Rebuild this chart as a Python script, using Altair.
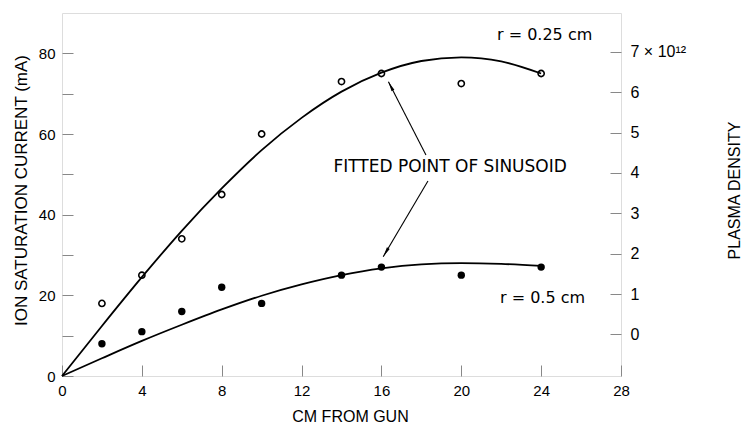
import math
import altair as alt
import pandas as pd

# Probe distance from the gun (cm) and measured ion saturation current (mA)
distance_cm = [2, 4, 6, 8, 10, 14, 16, 20, 24]
current_r025 = [18, 25, 34, 45, 60, 73, 75, 72.5, 75]   # open circles, r = 0.25 cm
current_r05 = [8, 11, 16, 22, 18, 25, 27, 25, 27]       # filled circles, r = 0.5 cm

# Fitted sinusoids through the data
fit_x = [0, 2, 4, 6, 8, 10, 12, 14, 16, 18, 20, 22, 24]
fit_r025 = [0, 12.4, 24.5, 36.0, 46.5, 56.0, 64.0, 70.5, 75.2, 78.1, 79.0, 78.0, 75.0]
fit_r05 = [0, 4.4, 8.7, 12.7, 16.5, 19.9, 22.7, 25.0, 26.7, 27.7, 28.0, 27.8, 27.3]

# Axis ticks
x_ticks = list(range(0, 29, 2))
y_ticks = list(range(0, 81, 10))
density_ticks = list(range(0, 8))

# Pointer arrows from the caption to the fitted points (tail -> tip)
arrow_tail_x = [18.23, 18.33]
arrow_tail_y = [54.8, 48.35]
arrow_tip_x = [16.35, 16.09]
arrow_tip_y = [72.97, 29.58]

W, H = 559, 363
X_DOM = [0, 28]
Y_DOM = [0, 90]
D_DOM = [-1.03, 7.96]
FONT = "DejaVu Sans"

px_x = W / (X_DOM[1] - X_DOM[0])
px_y = H / (Y_DOM[1] - Y_DOM[0])

xs = alt.Scale(domain=X_DOM, nice=False, zero=False)
ys = alt.Scale(domain=Y_DOM, nice=False, zero=False)

x_axis = alt.Axis(
    values=x_ticks,
    labelExpr="datum.value % 4 == 0 ? datum.label : ''",
    title="CM FROM GUN",
    offset=-11, tickSize=11, domain=False, grid=False,
    labelFlush=False, labelOverlap=False,
    labelFontSize=15, labelPadding=7,
    titleFontSize=16, titleFontWeight="normal", titlePadding=10, titleX=288,
)
y_axis = alt.Axis(
    values=y_ticks,
    labelExpr="datum.value % 20 == 0 ? datum.label : ''",
    title="ION SATURATION CURRENT (mA)",
    offset=-11, tickSize=11, domain=False, grid=False,
    labelFlush=False, labelOverlap=False,
    labelFontSize=15, labelPadding=7,
    titleFontSize=17, titleFontWeight="normal", titlePadding=8, titleY=177,
)

pts = pd.DataFrame({"x": distance_cm, "a": current_r025, "b": current_r05})
fit = pd.DataFrame({"x": fit_x, "a": fit_r025, "b": fit_r05})

open_pts = alt.Chart(pts).mark_point(
    shape="circle", filled=False, color="black", size=38, strokeWidth=1.6, opacity=1
).encode(
    x=alt.X("x:Q", scale=xs, axis=x_axis),
    y=alt.Y("a:Q", scale=ys, axis=y_axis),
)
filled_pts = alt.Chart(pts).mark_circle(color="black", size=55, opacity=1).encode(
    x=alt.X("x:Q", scale=xs), y=alt.Y("b:Q", scale=ys)
)
line_a = alt.Chart(fit).mark_line(color="black", strokeWidth=1.8, interpolate="monotone").encode(
    x=alt.X("x:Q", scale=xs), y=alt.Y("a:Q", scale=ys)
)
line_b = alt.Chart(fit).mark_line(color="black", strokeWidth=1.8, interpolate="monotone").encode(
    x=alt.X("x:Q", scale=xs), y=alt.Y("b:Q", scale=ys)
)

# Arrow shafts and heads
heads = []
for tx, ty, hx, hy in zip(arrow_tail_x, arrow_tail_y, arrow_tip_x, arrow_tip_y):
    dx = (hx - tx) * px_x
    dy = -(hy - ty) * px_y
    length = math.hypot(dx, dy)
    ang = math.degrees(math.atan2(dx, -dy)) % 360
    back = 5.0 / length
    heads.append({
        "x": hx - (hx - tx) * back,
        "y": hy - (hy - ty) * back,
        "angle": ang,
    })
arrows = pd.DataFrame({"x": arrow_tail_x, "y": arrow_tail_y, "x2": arrow_tip_x, "y2": arrow_tip_y})
shafts = alt.Chart(arrows).mark_rule(color="black", strokeWidth=1.1).encode(
    x=alt.X("x:Q", scale=xs), y=alt.Y("y:Q", scale=ys), x2="x2:Q", y2="y2:Q"
)
head_df = pd.DataFrame(heads)
head_marks = alt.Chart(head_df).mark_point(
    shape="M0,-1L0.32,1L-0.32,1Z", filled=True, color="black", size=100, opacity=1, strokeWidth=0
).encode(
    x=alt.X("x:Q", scale=xs), y=alt.Y("y:Q", scale=ys),
    angle=alt.Angle("angle:Q", scale=None),
)


def label(text, x, y, size, align="left"):
    df = pd.DataFrame({"x": [x], "y": [y], "t": [text]})
    return alt.Chart(df).mark_text(
        font=FONT, fontSize=size, align=align, baseline="middle", color="black"
    ).encode(x=alt.X("x:Q", scale=xs), y=alt.Y("y:Q", scale=ys), text="t:N")


caption = label("FITTED POINT OF SINUSOID", 19.44, 51.8, 17, align="center")
lab_a = label("r = 0.25 cm", 21.79, 84.6, 16)
lab_b = label("r = 0.5 cm", 21.94, 19.3, 16)

main = alt.layer(
    line_a, line_b, shafts, head_marks, open_pts, filled_pts, caption, lab_a, lab_b
)

# Secondary scale: plasma density
dens = pd.DataFrame({"d": density_ticks})
right = alt.Chart(dens).mark_point(opacity=0).encode(
    y=alt.Y(
        "d:Q",
        scale=alt.Scale(domain=D_DOM, nice=False, zero=False),
        axis=alt.Axis(
            orient="right",
            values=density_ticks,
            labelExpr="datum.value == 7 ? '7 × 10¹²' : datum.label",
            title="PLASMA DENSITY",
            titleAngle=270,
            offset=-11, tickSize=11, domain=False, grid=False,
            labelFlush=False, labelOverlap=False,
            labelFontSize=16, labelPadding=9,
            titleFontSize=16, titleFontWeight="normal", titlePadding=57, titleY=177,
        ),
    )
)

chart = alt.layer(main, right).resolve_scale(y="independent").properties(
    width=W,
    height=H,
    autosize=alt.AutoSizeParams(type="none"),
    padding={"left": 62, "top": 13, "right": 123, "bottom": 49},
).configure_axis(
    labelFont=FONT, titleFont=FONT, labelColor="black", titleColor="black",
    tickColor="black", tickWidth=1.2,
).configure_view(stroke="black", strokeWidth=1.5).configure(background="white")

chart.save("out.html", embed_options={"renderer": "svg", "actions": False})
